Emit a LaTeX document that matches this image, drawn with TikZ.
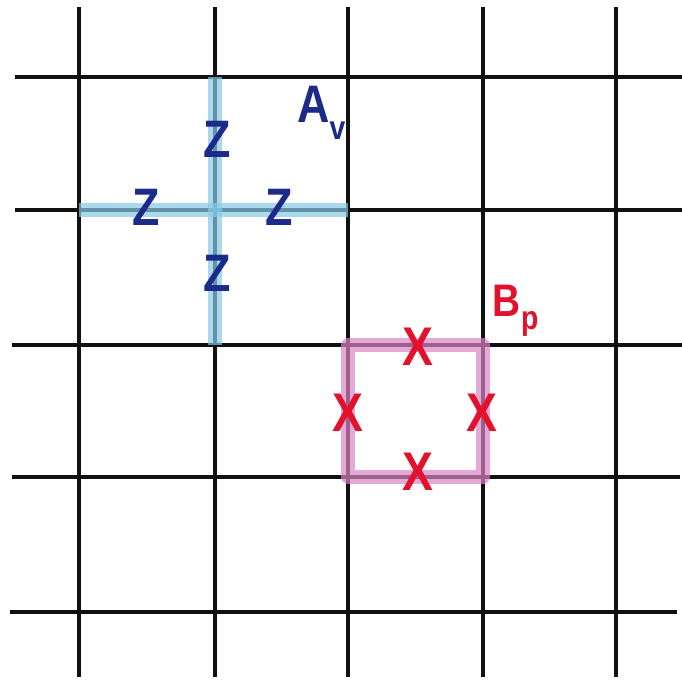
\documentclass[tikz,border=0pt]{standalone}
\usepackage{fontspec}
\setsansfont{Liberation Sans}
\usetikzlibrary{positioning,calc}
\usepackage{xcolor}
\definecolor{Ink}{HTML}{111111}
\definecolor{StarBand}{HTML}{86C9E6}
\definecolor{PlaqBand}{HTML}{DA84C3}
\definecolor{StarText}{HTML}{1C2A8A}
\definecolor{PlaqText}{HTML}{E3122C}

\tikzset{
  gridline/.style={Ink,line width=1.8pt},
  starband/.style={StarBand,opacity=0.7,line width=7.5pt},
  plaqband/.style={PlaqBand,opacity=0.7,line width=7.5pt,line join=round},
  zlabel/.style={font=\sffamily\bfseries\fontsize{30}{30}\selectfont,text=StarText,inner sep=0pt,xscale=0.85},
  xlabel/.style={font=\sffamily\bfseries\fontsize{31}{31}\selectfont,text=PlaqText,inner sep=0pt,xscale=0.85},
}

\begin{document}
\begin{tikzpicture}[x=1cm,y=1cm]
\useasboundingbox (0,0) rectangle (13.64,13.62);
% lattice
\draw[gridline] (1.580,0.08) -- (1.580,13.48);
\draw[gridline] (4.300,0.08) -- (4.300,13.48);
\draw[gridline] (6.960,0.08) -- (6.960,13.48);
\draw[gridline] (9.660,0.08) -- (9.660,13.48);
\draw[gridline] (12.320,0.08) -- (12.320,13.48);
\draw[gridline] (0.30,12.080) -- (13.64,12.080);
\draw[gridline] (0.30,9.420) -- (13.64,9.420);
\draw[gridline] (0.24,6.720) -- (13.64,6.720);
\draw[gridline] (0.24,4.080) -- (13.60,4.080);
\draw[gridline] (0.20,1.380) -- (13.54,1.380);
% star operator around vertex v
\coordinate (vN) at (4.300,12.080);
\coordinate (vS) at (4.300,6.720);
\coordinate (vW) at (1.580,9.420);
\coordinate (vE) at (6.960,9.420);
\draw[starband] (vW) -- (vE);
\draw[starband] (vN) -- (vS);
\node[zlabel] (zN) at (4.34,10.84) {Z};
\node[zlabel] (zW) at (2.92,9.48) {Z};
\node[zlabel] (zE) at (5.58,9.48) {Z};
\node[zlabel] (zS) at (4.34,8.16) {Z};
\node[zlabel,anchor=base west,xscale=1] (av) at (5.94,11.16)
  {A\raisebox{-0.32em}{\fontsize{19}{19}\selectfont v}};
% plaquette operator around face p
\coordinate (pNW) at (6.960,6.720);
\coordinate (pSE) at (9.660,4.080);
\draw[plaqband] (pNW) rectangle (pSE);
\node[xlabel] (xN) at (8.36,6.68) {X};
\node[xlabel] (xW) at (6.96,5.36) {X};
\node[xlabel] (xE) at (9.64,5.36) {X};
\node[xlabel] (xS) at (8.36,4.18) {X};
\node[xlabel,anchor=base west,xscale=1,font=\sffamily\bfseries\fontsize{26}{26}\selectfont] (bp) at (9.84,7.28)
  {B\kern0.02em\raisebox{-0.28em}{\fontsize{19}{19}\selectfont p}};
\end{tikzpicture}
\end{document}
